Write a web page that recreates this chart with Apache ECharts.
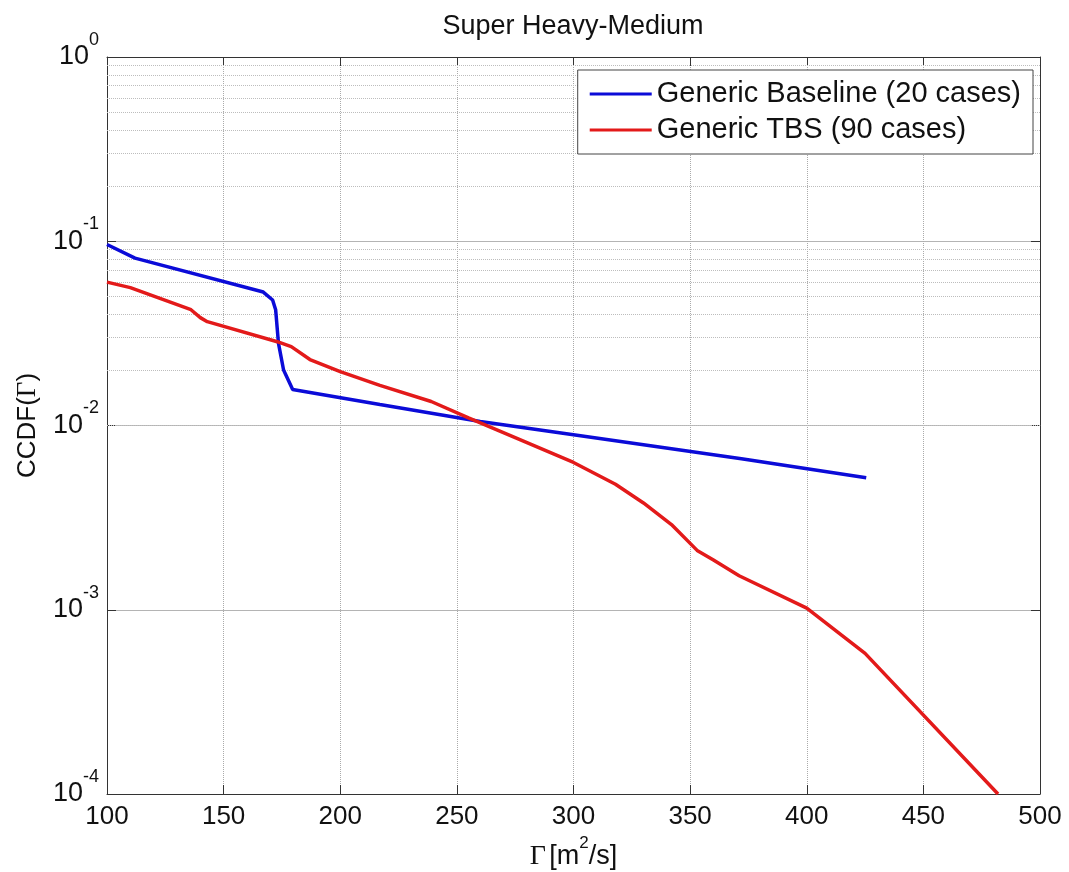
<!DOCTYPE html>
<html>
<head>
<meta charset="utf-8">
<title>Super Heavy-Medium</title>
<script src="https://cdn.jsdelivr.net/npm/echarts@6/dist/echarts.min.js"></script>
<style>
  html, body { margin: 0; padding: 0; background: #fff; }
  #Chart { width: 1069px; height: 872px; }
</style>
</head>
<body>
<div id="Chart"></div>
<script>
// values
var baselineName = 'Generic Baseline (20 cases)';
var baselineGamma = [100, 112, 167, 171, 172.3, 173.5, 175.7, 179.6, 217, 260, 300, 372, 425.5];
var baselineCcdf = [0.096, 0.081, 0.053, 0.048, 0.0425, 0.028, 0.020, 0.0157, 0.013, 0.0105, 0.0089, 0.0066, 0.0052];

var tbsName = 'Generic TBS (90 cases)';
var tbsGamma = [100, 110, 136, 140, 143, 173, 179, 187, 200, 217, 239, 255, 275, 300, 318, 330, 342, 353, 360, 371, 400, 425, 482];
var tbsCcdf = [0.060, 0.056, 0.0425, 0.0385, 0.0366, 0.0285, 0.0268, 0.0228, 0.0196, 0.0165, 0.0135, 0.011, 0.0086, 0.0063, 0.0048, 0.0038, 0.0029, 0.0021, 0.00186, 0.00153, 0.00102, 0.00058, 0.0001];

var decades = [1e-4, 1e-3, 1e-2, 1e-1];
var minorSteps = [2, 3, 4, 5, 6, 7, 8, 9];

function pairs(xs, ys) {
    var out = [];
    for (var i = 0; i < xs.length; i++) out.push([xs[i], ys[i]]);
    return out;
}

var minorGrid = [];
decades.forEach(function (d) {
    minorSteps.forEach(function (m) {
        minorGrid.push({ yAxis: +(d * m).toPrecision(3) });
    });
});

var sans = 'Liberation Sans, Arial, Helvetica, sans-serif';
var serif = 'Liberation Serif, Times New Roman, serif';

function powLabel(v) {
    var e = Math.round(Math.log(v) / Math.LN10);
    return '{b|10}{s|' + e + '}';
}

var Chart = echarts.init(document.getElementById('Chart'));

var option = {
    backgroundColor: '#fff',
    animation: false,
    title: {
        text: 'Super Heavy-Medium',
        left: 573,
        textAlign: 'center',
        top: 13,
        padding: 0,
        textStyle: { fontFamily: sans, fontSize: 27, fontWeight: 'normal', color: '#111' }
    },
    legend: {
        orient: 'vertical',
        right: 36,
        top: 70,
        padding: [9, 12, 9, 12],
        itemGap: 6,
        itemWidth: 62,
        itemHeight: 3,
        icon: 'rect',
        backgroundColor: '#fff',
        borderColor: '#444',
        borderWidth: 1,
        borderRadius: 0,
        textStyle: { fontFamily: sans, fontSize: 29, color: '#111', lineHeight: 30 },
        data: [baselineName, tbsName]
    },
    grid: { left: 107, right: 29, top: 57, bottom: 78, outerBoundsMode: 'none' },
    xAxis: [{
        type: 'value',
        min: 100,
        max: 500,
        interval: 50,
        name: '{g|\u0393} {t|[m}{s|2}{t|/s]}',
        nameLocation: 'middle',
        nameGap: 38,
        nameTextStyle: {
            rich: {
                g: { fontFamily: serif, fontSize: 28, color: '#111', lineHeight: 44 },
                t: { fontFamily: sans, fontSize: 27, color: '#111', lineHeight: 44 },
                s: { fontFamily: sans, fontSize: 17, color: '#111', lineHeight: 17, padding: [0, 0, 26, 0] }
            }
        },
        axisLine: { show: true, lineStyle: { color: '#333', width: 1 } },
        axisTick: { show: true, inside: true, length: 9, lineStyle: { color: '#333' } },
        axisLabel: { margin: 10, fontFamily: sans, fontSize: 26, color: '#111' },
        splitLine: { show: true, lineStyle: { color: '#aaa', type: 'dotted', width: 1 } }
    }, {
        type: 'value',
        position: 'top',
        min: 100,
        max: 500,
        interval: 50,
        axisLine: { show: true, lineStyle: { color: '#333', width: 1 } },
        axisTick: { show: true, inside: true, length: 9, lineStyle: { color: '#333' } },
        axisLabel: { show: false },
        splitLine: { show: false }
    }],
    yAxis: [{
        type: 'log',
        logBase: 10,
        min: 1e-4,
        max: 1,
        name: '{t|CCDF(}{g|\u0393}{t|)}',
        nameLocation: 'middle',
        nameRotate: 90,
        nameGap: 66,
        nameTextStyle: {
            rich: {
                g: { fontFamily: serif, fontSize: 27, color: '#111' },
                t: { fontFamily: sans, fontSize: 26, color: '#111' }
            }
        },
        axisLine: { show: true, lineStyle: { color: '#333', width: 1 } },
        axisTick: { show: true, inside: true, length: 9, lineStyle: { color: '#333' } },
        axisLabel: {
            margin: 8,
            formatter: powLabel,
            rich: {
                b: { fontFamily: sans, fontSize: 27, color: '#111', lineHeight: 52 },
                s: { fontFamily: sans, fontSize: 18, color: '#111', lineHeight: 18, padding: [0, 0, 34, 0] }
            }
        },
        splitLine: { show: true, lineStyle: { color: '#b4b4b4', type: 'solid', width: 1 } }
    }, {
        type: 'log',
        logBase: 10,
        min: 1e-4,
        max: 1,
        position: 'right',
        axisLine: { show: true, lineStyle: { color: '#333', width: 1 } },
        axisTick: { show: true, inside: true, length: 9, lineStyle: { color: '#333' } },
        axisLabel: { show: false },
        splitLine: { show: false }
    }],
    series: [{
        name: baselineName,
        type: 'line',
        symbol: 'none',
        xAxisIndex: 0,
        yAxisIndex: 0,
        lineStyle: { color: '#0b0bd8', width: 3.5 },
        itemStyle: { color: '#0b0bd8' },
        data: pairs(baselineGamma, baselineCcdf),
        z: 3,
        markLine: {
            silent: true,
            symbol: 'none',
            label: { show: false },
            lineStyle: { color: '#bdbdbd', type: 'dotted', width: 1 },
            data: minorGrid,
            z: 1
        }
    }, {
        name: tbsName,
        type: 'line',
        symbol: 'none',
        xAxisIndex: 0,
        yAxisIndex: 0,
        lineStyle: { color: '#e31a1a', width: 3.5 },
        itemStyle: { color: '#e31a1a' },
        data: pairs(tbsGamma, tbsCcdf),
        z: 4
    }]
};

Chart.setOption(option);

window.addEventListener('resize', function () {
    Chart.resize();
});
</script>
</body>
</html>
